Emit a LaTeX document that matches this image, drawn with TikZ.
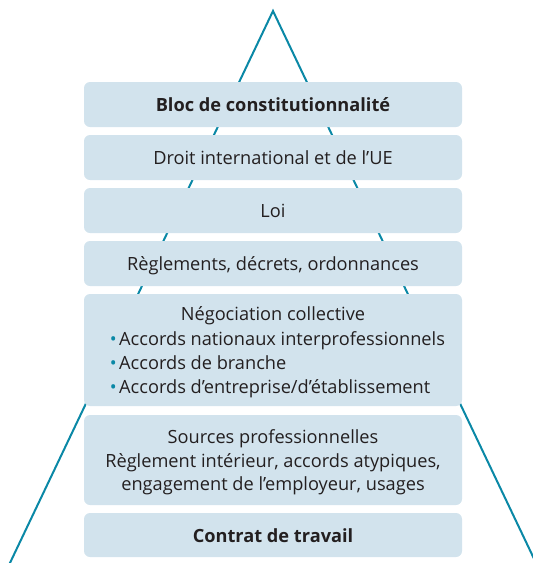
\documentclass[tikz,border=0pt]{standalone}
\usepackage{fontspec}
\setmainfont{Open Sans}
\definecolor{boxfill}{HTML}{D2E3ED}
\definecolor{teal1}{HTML}{0A88A6}
\definecolor{txt}{HTML}{231F20}
\begin{document}
\begin{tikzpicture}[x=1pt,y=-1pt,
  box/.style={fill=boxfill,draw=none,rounded corners=6pt,minimum width=378pt,inner sep=0pt},
  lbl/.style={anchor=base,inner sep=0pt,text=txt,font=\fontsize{18.2}{22}\selectfont},
  blbl/.style={lbl,font=\fontsize{18.2}{22}\selectfont\bfseries},
  litem/.style={anchor=base west,inner sep=0pt,text=txt,font=\fontsize{18.2}{22}\selectfont},
  bul/.style={anchor=base east,inner sep=0pt,text=teal1,font=\fontsize{18.2}{22}\selectfont},
  side/.style={draw=teal1,line width=2pt}]
\useasboundingbox (0,0) rectangle (533,563);
\clip (0,0) rectangle (533,563);
% pyramid sides
\coordinate (apex) at (273,11);
\coordinate (lfoot) at (9,565);
\coordinate (rfoot) at (537,565);
\draw[side,line join=miter] (lfoot) -- (apex) -- (rfoot);
% boxes
\node[box,minimum height=45pt] (b1) at (273,104.5) {};
\node[box,minimum height=45pt] (b2) at (273,157.5) {};
\node[box,minimum height=45pt] (b3) at (273,210.5) {};
\node[box,minimum height=45pt] (b4) at (273,263.5) {};
\node[box,minimum height=112pt] (b5) at (273,350) {};
\node[box,minimum height=90pt] (b6) at (273,460) {};
\node[box,minimum height=44pt] (b7) at (273,535) {};
% texts
\node[blbl] (t1) at (273,111) {Bloc de constitutionnalité};
\node[lbl] (t2) at (273,164) {Droit international et de l’UE};
\node[lbl] (t3) at (273,217) {Loi};
\node[lbl] (t4) at (273,270) {Règlements, décrets, ordonnances};
\node[lbl] (t5) at (273,320) {Négociation collective};
\node[litem] (t5a) at (119,345) {Accords nationaux interprofessionnels};
\node[litem] (t5b) at (119,369) {Accords de branche};
\node[litem] (t5c) at (119,393) {Accords d’entreprise/d’établissement};
\node[bul] (u5a) at (117,345) {•};
\node[bul] (u5b) at (117,369) {•};
\node[bul] (u5c) at (117,393) {•};
\node[lbl] (t6) at (273,443) {Sources professionnelles};
\node[lbl] (t6a) at (273,467) {Règlement intérieur, accords atypiques,};
\node[lbl] (t6b) at (273,490) {engagement de l’employeur, usages};
\node[blbl] (t7) at (273,542) {Contrat de travail};
\end{tikzpicture}
\end{document}
